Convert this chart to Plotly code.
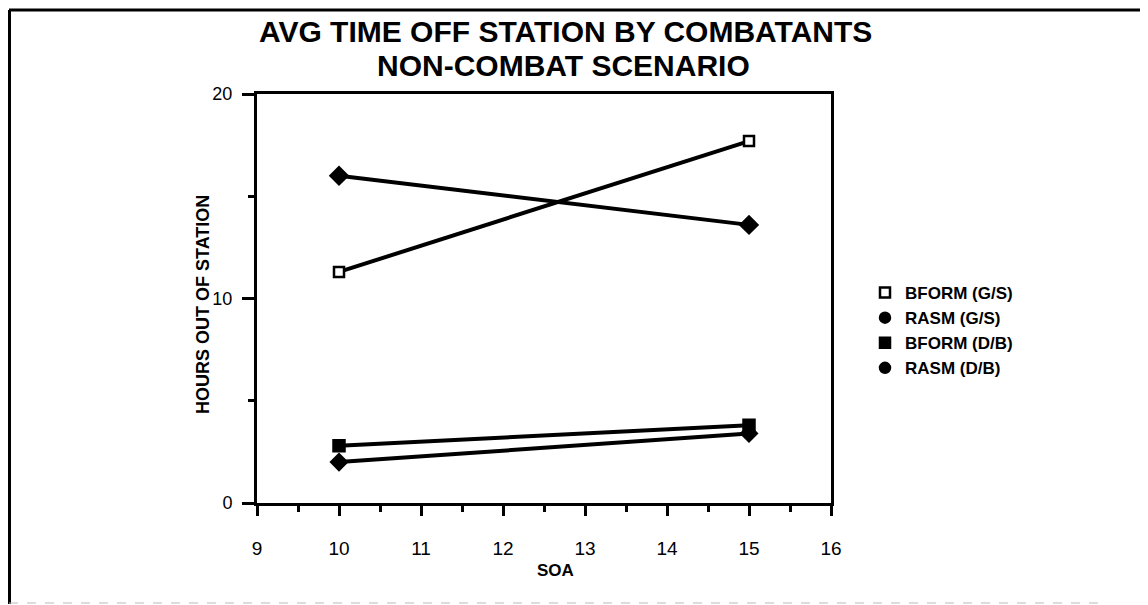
import plotly.graph_objects as go

# Data
soa = [10, 15]
bform_gs = [11.3, 17.7]
rasm_gs = [16.0, 13.6]
bform_db = [2.8, 3.8]
rasm_db = [2.0, 3.4]

series_names = ["BFORM (G/S)", "RASM (G/S)", "BFORM (D/B)", "RASM (D/B)"]
series_values = [bform_gs, rasm_gs, bform_db, rasm_db]
plot_symbols = ["square", "diamond", "square", "diamond"]
plot_fills = ["white", "black", "black", "black"]
plot_sizes = [10, 13, 11, 12]
legend_symbols = ["square", "circle", "square", "circle"]

x_ticks = [9, 10, 11, 12, 13, 14, 15, 16]
y_ticks = [0, 10, 20]
title_lines = ["AVG TIME OFF STATION BY COMBATANTS", "NON-COMBAT SCENARIO"]

FONT = "Liberation Sans, Arial, sans-serif"

fig = go.Figure()
for name, vals, sym, fill, sz in zip(series_names, series_values, plot_symbols, plot_fills, plot_sizes):
    fig.add_trace(go.Scatter(
        x=soa, y=vals, mode="lines+markers", name=name, showlegend=False,
        line=dict(color="black", width=4),
        marker=dict(symbol=sym, size=sz, color=fill, line=dict(color="black", width=2.5)),
    ))
for name, sym, fill in zip(series_names, legend_symbols, plot_fills):
    fig.add_trace(go.Scatter(
        x=[None], y=[None], mode="markers", name=name,
        marker=dict(symbol=sym, size=10, color=fill, line=dict(color="black", width=2.5)),
    ))

# page offset (body margin) compensation
OFF = 8
W, H = 1148 - OFF, 605 - OFF
L, R, T, B = 257 - OFF, 1148 - 831, 94 - OFF, 605 - 503
pw, ph = W - L - R, H - T - B

def px(x):
    return (x - 257) / pw

def py(y):
    return (503 - y) / ph

fig.update_layout(
    width=W, height=H,
    margin=dict(l=L, r=R, t=T, b=B),
    paper_bgcolor="white", plot_bgcolor="white",
    font=dict(family=FONT, color="black", size=17),
    showlegend=True,
    legend=dict(x=px(865), y=py(275), xanchor="left", yanchor="top",
                font=dict(size=17, family=FONT, weight="bold"), tracegroupgap=0,
                bgcolor="rgba(0,0,0,0)", borderwidth=0),
    xaxis=dict(range=[9, 16], tickvals=x_ticks, ticks="outside", ticklen=10, tickwidth=2.5,
               tickcolor="black", showline=True, linecolor="black", linewidth=3, mirror=True,
               showgrid=False, zeroline=False, ticklabelstandoff=16,
               tickfont=dict(size=19, family=FONT),
               minor=dict(dtick=0.5, ticks="outside", ticklen=6, tickwidth=2.5, tickcolor="black", showgrid=False)),
    yaxis=dict(range=[0, 20], tickvals=y_ticks, ticks="outside", ticklen=12, tickwidth=2.5,
               tickcolor="black", showline=True, linecolor="black", linewidth=3, mirror=True,
               showgrid=False, zeroline=False, ticklabelstandoff=6,
               tickfont=dict(size=18, family=FONT),
               minor=dict(dtick=5, ticks="outside", ticklen=6, tickwidth=2.5, tickcolor="black", showgrid=False)),
    annotations=[
        dict(text="<b>%s</b>" % title_lines[0],
             x=px(565), y=py(31), xref="paper", yref="paper", xanchor="center", yanchor="middle",
             showarrow=False, font=dict(size=30, family=FONT)),
        dict(text="<b>%s</b>" % title_lines[1],
             x=px(563), y=py(65), xref="paper", yref="paper", xanchor="center", yanchor="middle",
             showarrow=False, font=dict(size=30, family=FONT)),
        dict(text="<b>SOA</b>", x=px(555), y=py(570), xref="paper", yref="paper",
             xanchor="center", yanchor="middle", showarrow=False, font=dict(size=17, family=FONT)),
        dict(text="<b>HOURS OUT OF STATION</b>", x=px(203), y=py(305), xref="paper", yref="paper",
             xanchor="center", yanchor="middle", textangle=-90, showarrow=False,
             font=dict(size=18, family=FONT)),
    ],
    shapes=[
        dict(type="line", xref="paper", yref="paper", x0=px(9), x1=px(1148), y0=py(10), y1=py(10),
             line=dict(color="black", width=3)),
        dict(type="line", xref="paper", yref="paper", x0=px(9.5), x1=px(9.5), y0=py(10), y1=py(604),
             line=dict(color="black", width=3)),
        dict(type="line", xref="paper", yref="paper", x0=px(9), x1=px(1100), y0=py(603), y1=py(603),
             line=dict(color="#bbbbbb", width=1, dash="dash")),
    ],
)

fig.write_html("out.html")
